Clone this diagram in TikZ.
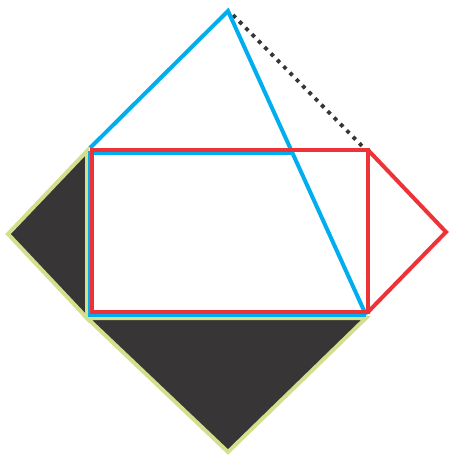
\documentclass[tikz,border=0pt]{standalone}
\definecolor{shadow}{HTML}{373535}
\definecolor{rim}{HTML}{D3DF8C}
\definecolor{rayred}{HTML}{EE3338}
\definecolor{rayblue}{HTML}{00AEEF}
\begin{document}
\begin{tikzpicture}[x=1pt, y=-1pt,
        rimline/.style={
            draw=rim,
            fill=shadow,
            line width=4pt,
            line join=miter
        },
        redline/.style={draw=rayred, line width=4pt, line join=miter},
        blueline/.style={draw=rayblue, line width=4pt, line join=miter},
        dotline/.style={draw=shadow, line width=3.8pt, dash pattern=on 3.8pt off 5.2pt}
    ]
        \useasboundingbox (0,0) rectangle (448,457);

        % Vertici
        \coordinate (apex) at (228,11);
        \coordinate (gtl) at (87,151);
        \coordinate (gtip) at (8,234);
        \coordinate (gbl) at (87,318);
        \coordinate (gbot) at (228,452);
        \coordinate (gbr) at (366,318);
        \coordinate (rtl) at (92,150);
        \coordinate (rtr) at (368,150);
        \coordinate (rbr) at (368,312);
        \coordinate (rbl) at (92,312);
        \coordinate (rtip) at (446,232);
        \coordinate (btl) at (90,153.5);
        \coordinate (btr) at (294,153.5);
        \coordinate (bbl) at (90,315);
        \coordinate (bbr) at (366,315);
        \coordinate (bcorner) at (90,148);
        \coordinate (dstart) at (233,15);
        \coordinate (dend) at (364,148);

        % Triangoli scuri
        \draw[rimline] (gtl) -- (gtip) -- (gbl) -- cycle;
        \draw[rimline] (gbl) -- (gbot) -- (gbr) -- cycle;

        % Linea punteggiata
        \draw[dotline] (dstart) -- (dend);

        % Blu
        \draw[blueline] (bcorner) -- (apex) -- (bbr);
        \draw[blueline] (btr) -- (btl) -- (bbl) -- (bbr);

        % Rosso
        \draw[redline] (rtl) rectangle (rbr);
        \draw[redline] (rtr) -- (rtip) -- (rbr);
    \end{tikzpicture}
\end{document}
